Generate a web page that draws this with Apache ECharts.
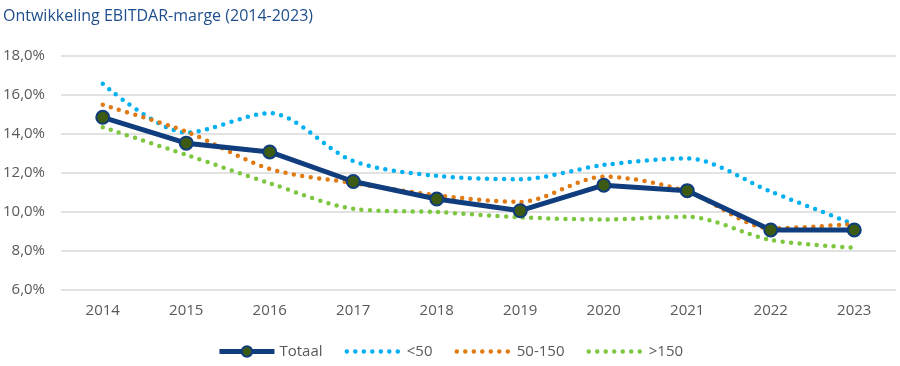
<!DOCTYPE html>
<html><head><meta charset="utf-8">
<script src="https://cdn.jsdelivr.net/npm/echarts@6/dist/echarts.min.js"></script>
<style>html,body{margin:0;padding:0;background:#fff}#c{width:900px;height:366px}</style>
</head><body><div id="c"></div>
<script>
const years = ['2014','2015','2016','2017','2018','2019','2020','2021','2022','2023'];
const totaal = [14.85, 13.52, 13.07, 11.55, 10.65, 10.05, 11.36, 11.08, 9.06, 9.06];
const klein = [16.57, 14.06, 15.06, 12.6, 11.84, 11.67, 12.4, 12.74, 11.03, 9.35];
const midden = [15.49, 14.11, 12.2, 11.47, 10.84, 10.5, 11.8, 11.03, 9.14, 9.37];
const groot = [14.34, 12.92, 11.46, 10.15, 9.98, 9.71, 9.6, 9.74, 8.55, 8.15];
const yTicks = {min: 6, max: 18, interval: 2};
const names = ['Totaal', '<50', '50-150', '>150'];

const font = '"Open Sans", "Noto Sans", sans-serif';
const dotStyle = {width: 4.5, type: [0, 8.5], cap: 'round'};
const dotted = (name, data, color) => ({
  name, type: 'line', data, smooth: 0.3, symbol: 'none',
  lineStyle: Object.assign({color}, dotStyle),
  itemStyle: {color}, z: 2
});
const chart = echarts.init(document.getElementById('c'), null, {renderer: 'canvas'});
chart.setOption({
  animation: false,
  title: {text: 'Ontwikkeling EBITDAR-marge (2014-2023)', left: -2, top: 3,
    textStyle: {fontFamily: font, fontSize: 16, fontWeight: 'normal', color: '#1F4E8C'}},
  grid: {left: 61, right: 4, top: 56, bottom: 76.5},
  xAxis: {type: 'category', data: years, boundaryGap: true,
    axisLine: {show: false}, axisTick: {show: false},
    axisLabel: {color: '#595959', fontFamily: font, fontSize: 15, margin: 14}},
  yAxis: {type: 'value', min: yTicks.min, max: yTicks.max, interval: yTicks.interval,
    axisLine: {show: false}, axisTick: {show: false},
    axisLabel: {color: '#595959', fontFamily: font, fontSize: 15, margin: 16,
      formatter: v => v.toFixed(1).replace('.', ',') + '%'},
    splitLine: {lineStyle: {color: '#D9D9D9', width: 1.5}}},
  legend: {bottom: 2, left: 'center', itemWidth: 55, itemHeight: 13, itemGap: 22,
    data: [
      {name: names[0], lineStyle: {width: 5}},
      {name: names[1], itemStyle: {opacity: 0}, lineStyle: dotStyle},
      {name: names[2], itemStyle: {opacity: 0}, lineStyle: dotStyle},
      {name: names[3], itemStyle: {opacity: 0}, lineStyle: dotStyle}
    ],
    textStyle: {color: '#595959', fontFamily: font, fontSize: 15}},
  series: [
    dotted(names[1], klein, '#00B0F0'),
    dotted(names[2], midden, '#E07A12'),
    dotted(names[3], groot, '#7DC740'),
    {name: names[0], type: 'line', data: totaal, symbol: 'circle', symbolSize: 13, z: 5,
      lineStyle: {color: '#0F3D7D', width: 5},
      itemStyle: {color: '#3D5A12', borderColor: '#0F3D7D', borderWidth: 2}}
  ]
});
</script></body></html>
